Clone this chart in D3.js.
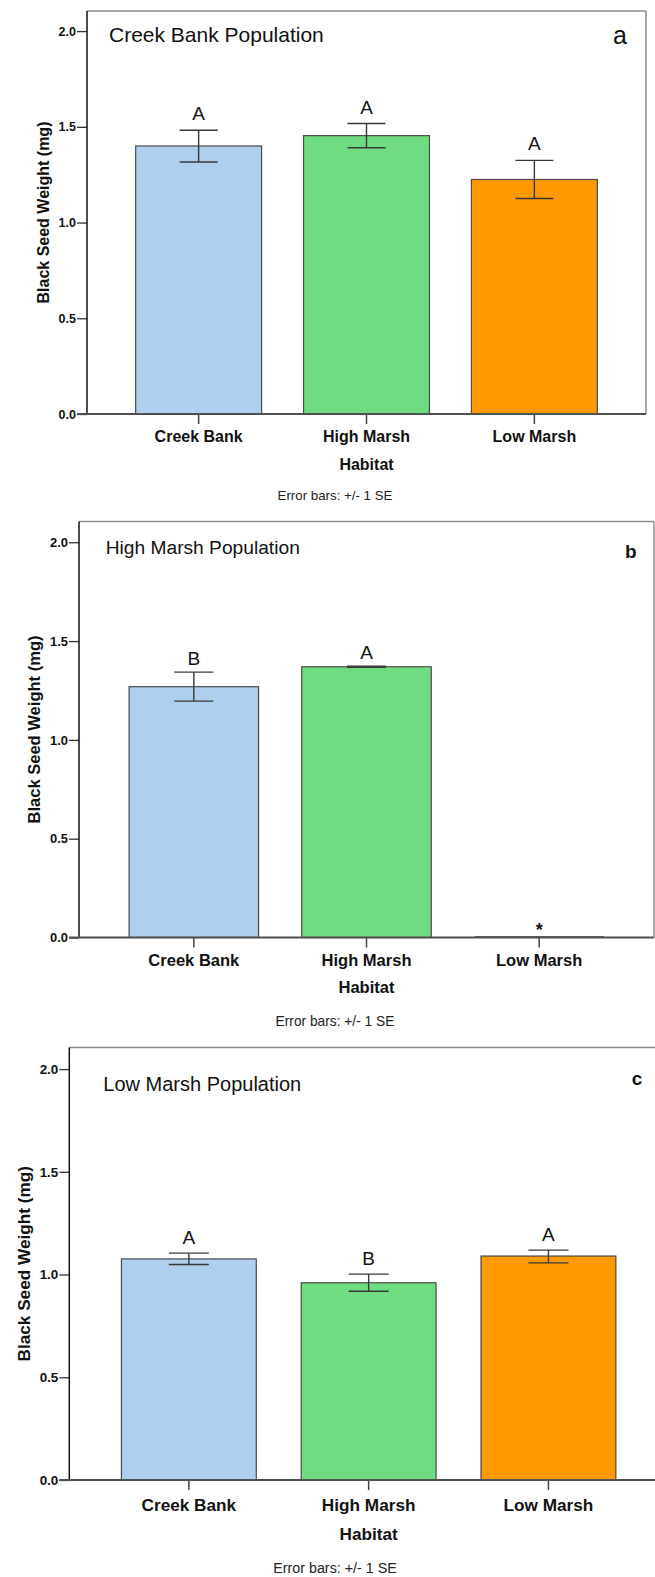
<!DOCTYPE html>
<html>
<head>
<meta charset="utf-8">
<script src="https://cdn.jsdelivr.net/npm/d3@7"></script>
<style>
  html, body { margin: 0; padding: 0; background: #fff; }
  svg { display: block; }
  text { font-family: Arial, "Liberation Sans", sans-serif; }
</style>
</head>
<body>
<svg id="chart" width="655" height="1577"></svg>
<script>
// ---------- DATA ----------
const categories = ["Creek Bank", "High Marsh", "Low Marsh"];
const panelTitles = ["Creek Bank Population", "High Marsh Population", "Low Marsh Population"];
const panelTags = ["a", "b", "c"];
const yTicks = [0.0, 0.5, 1.0, 1.5, 2.0];
const yMax = 2.105;
const xAxisTitle = "Habitat";
const yAxisTitle = "Black Seed Weight (mg)";
const errorNote = "Error bars: +/- 1 SE";

const meansA   = [1.400, 1.454, 1.225];
const seLowA   = [1.316, 1.391, 1.126];
const seHighA  = [1.482, 1.517, 1.325];
const lettersA = ["A", "A", "A"];

const meansB   = [1.269, 1.370, 0.000];
const seLowB   = [1.196, 1.367, 0.000];
const seHighB  = [1.343, 1.373, 0.000];
const lettersB = ["B", "A", "*"];

const meansC   = [1.076, 0.960, 1.090];
const seLowC   = [1.049, 0.919, 1.057];
const seHighC  = [1.104, 1.002, 1.119];
const lettersC = ["A", "B", "A"];

// ---------- STYLE / LAYOUT ----------
const barColors = ["#aecfee", "#70dc82", "#ff9900"];
const layouts = [
  {left: 87, right: 646, top: 11, y0: 414, s: 1.0,
   titleX: 109, titleY: 42, titleFs: 21, tagX: 613, tagY: 44, tagFs: 25, tagW: 400,
   ytX: 43, letterGap: 10, capW: 38, xlabDy: 28, habDy: 56, errDy: 86},
  {left: 79, right: 654, top: 521.5, y0: 937.5, s: 1.034,
   titleX: 105.7, titleY: 554, titleFs: 19.2, tagX: 625, tagY: 557.5, tagFs: 19, tagW: 700,
   ytX: 34, letterGap: 7, capW: 39, xlabDy: 28.5, habDy: 55.5, errDy: 88.5},
  {left: 69.3, right: 668, top: 1047.5, y0: 1480, s: 1.075,
   titleX: 103.3, titleY: 1091, titleFs: 20, tagX: 631.7, tagY: 1085, tagFs: 19, tagW: 700,
   ytX: 24, letterGap: 9.5, capW: 40, xlabDy: 31, habDy: 60, errDy: 93}
];

const panels = [
  {means: meansA, lo: seLowA, hi: seHighA, letters: lettersA},
  {means: meansB, lo: seLowB, hi: seHighB, letters: lettersB},
  {means: meansC, lo: seLowC, hi: seHighC, letters: lettersC}
];

const svg = d3.select("#chart");

panels.forEach((p, i) => {
  const L = layouts[i];
  const g = svg.append("g");

  const x = d3.scaleBand().domain(categories).range([L.left, L.right])
    .paddingInner(0.25).paddingOuter(0.29);
  const y = d3.scaleLinear().domain([0, yMax]).range([L.y0, L.top]);

  const rows = categories.map((c, k) => ({
    cat: c, mean: p.means[k], lo: p.lo[k], hi: p.hi[k], letter: p.letters[k], color: barColors[k]
  }));

  // bars
  rows.forEach(d => {
    const h = y(0) - y(d.mean);
    if (h > 0.5) {
      g.append("rect")
        .attr("x", x(d.cat)).attr("y", y(d.mean))
        .attr("width", x.bandwidth()).attr("height", h)
        .attr("fill", d.color).attr("stroke", "#4a4a4a").attr("stroke-width", 1.2);
    } else {
      g.append("line")
        .attr("x1", x(d.cat)).attr("x2", x(d.cat) + x.bandwidth())
        .attr("y1", y(0) - 0.5).attr("y2", y(0) - 0.5)
        .attr("stroke", "#333").attr("stroke-width", 1.5);
    }
  });

  // error bars
  rows.forEach(d => {
    if (d.hi - d.lo <= 0) return;
    const cx = x(d.cat) + x.bandwidth() / 2;
    const eb = g.append("g").attr("stroke", "#383838").attr("stroke-width", 1.4);
    eb.append("line").attr("x1", cx).attr("x2", cx).attr("y1", y(d.hi)).attr("y2", y(d.lo));
    eb.append("line").attr("x1", cx - L.capW / 2).attr("x2", cx + L.capW / 2)
      .attr("y1", y(d.hi)).attr("y2", y(d.hi));
    eb.append("line").attr("x1", cx - L.capW / 2).attr("x2", cx + L.capW / 2)
      .attr("y1", y(d.lo)).attr("y2", y(d.lo));
  });

  // significance letters
  rows.forEach(d => {
    const cx = x(d.cat) + x.bandwidth() / 2;
    const isStar = d.letter === "*";
    g.append("text")
      .attr("x", cx)
      .attr("y", isStar ? y(0) - 1.5 : y(d.hi) - L.letterGap)
      .attr("text-anchor", "middle")
      .attr("font-size", isStar ? 18 : 19)
      .attr("font-weight", isStar ? "bold" : "normal")
      .attr("fill", "#111")
      .text(d.letter);
  });

  // frame: top and right (light grey)
  g.append("line").attr("x1", L.left).attr("x2", L.right).attr("y1", L.top).attr("y2", L.top)
    .attr("stroke", "#8a8a8a").attr("stroke-width", 1.5);
  g.append("line").attr("x1", L.right).attr("x2", L.right).attr("y1", L.top).attr("y2", L.y0)
    .attr("stroke", "#8a8a8a").attr("stroke-width", 1.5);

  // y axis
  const yAxis = d3.axisLeft(y).tickValues(yTicks).tickFormat(d3.format(".1f"))
    .tickSize(10).tickPadding(1);
  const ya = g.append("g").attr("transform", `translate(${L.left},0)`).call(yAxis);
  ya.select(".domain").remove();
  ya.selectAll(".tick line").attr("stroke", "#333").attr("stroke-width", 1.3);
  ya.selectAll(".tick text")
    .attr("font-size", 12.5 * L.s).attr("font-weight", "bold").attr("fill", "#111")
    .style("font-family", "Arial, 'Liberation Sans', sans-serif");

  // left axis line
  g.append("line").attr("x1", L.left).attr("x2", L.left).attr("y1", L.top).attr("y2", L.y0)
    .attr("stroke", "#111").attr("stroke-width", 1.5);

  // x axis
  const xAxis = d3.axisBottom(x).tickSize(10).tickPadding(4);
  const xa = g.append("g").attr("transform", `translate(0,${L.y0})`).call(xAxis);
  xa.select(".domain").remove();
  xa.selectAll(".tick line").attr("stroke", "#444").attr("stroke-width", 1.5);
  xa.selectAll(".tick text")
    .attr("y", L.xlabDy).attr("dy", 0)
    .attr("font-size", 16 * L.s).attr("font-weight", "bold").attr("fill", "#111")
    .style("font-family", "Arial, 'Liberation Sans', sans-serif");

  // bottom axis line
  g.append("line").attr("x1", L.left - 10).attr("x2", L.right).attr("y1", L.y0).attr("y2", L.y0)
    .attr("stroke", "#505050").attr("stroke-width", 2);

  // titles
  g.append("text").attr("x", L.titleX).attr("y", L.titleY)
    .attr("font-size", L.titleFs).attr("fill", "#111").text(panelTitles[i]);
  g.append("text").attr("x", L.tagX).attr("y", L.tagY)
    .attr("font-size", L.tagFs).attr("font-weight", L.tagW).attr("fill", "#111").text(panelTags[i]);

  // axis titles
  g.append("text")
    .attr("transform", `translate(${L.ytX},${(L.top + L.y0) / 2}) rotate(-90)`)
    .attr("text-anchor", "middle").attr("dominant-baseline", "central")
    .attr("font-size", 16 * L.s).attr("font-weight", "bold").attr("fill", "#111")
    .text(yAxisTitle);
  g.append("text")
    .attr("x", (L.left + L.right) / 2).attr("y", L.y0 + L.habDy)
    .attr("text-anchor", "middle")
    .attr("font-size", 16 * L.s).attr("font-weight", "bold").attr("fill", "#111")
    .text(xAxisTitle);
  g.append("text")
    .attr("x", 335).attr("y", L.y0 + L.errDy)
    .attr("text-anchor", "middle")
    .attr("font-size", 13.3 * L.s).attr("fill", "#222")
    .text(errorNote);
});
</script>
</body>
</html>
